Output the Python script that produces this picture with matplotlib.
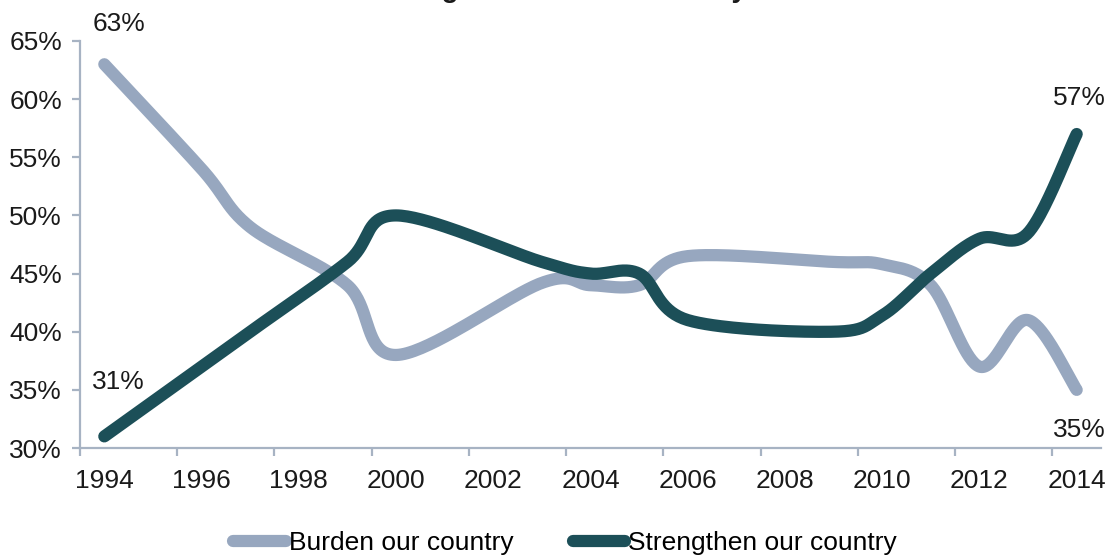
import numpy as np
import matplotlib
matplotlib.use("Agg")
import matplotlib.pyplot as plt

plt.rcParams['font.family'] = ['Liberation Sans', 'DejaVu Sans']

years = [1994, 1996, 1997, 1999, 2000, 2003, 2004, 2005, 2006, 2009, 2010, 2011, 2012, 2013, 2014]
burden = [63, 54, 49, 44, 38, 44.2, 44, 44, 46.5, 46, 45.8, 44, 37, 41, 35]
strengthen = [31, 37, 40, 46, 50, 46, 45, 45, 41, 40, 41.4, 45, 48, 48.5, 57]
tick_years = list(range(1994, 2015, 2))
y_ticks = list(range(30, 66, 5))

light = '#97a7bf'
dark = '#1c4f58'
axis_col = '#a7b3c3'


def smooth(xs, ys, n=40):
    # Catmull-Rom through the points, same look as a spreadsheet "smoothed line"
    pts = np.column_stack([xs, ys]).astype(float)
    p = np.vstack([pts[0], pts, pts[-1]])
    t = np.linspace(0, 1, n)[:, None]
    h00 = 2 * t**3 - 3 * t**2 + 1
    h10 = t**3 - 2 * t**2 + t
    h01 = -2 * t**3 + 3 * t**2
    h11 = t**3 - t**2
    out = []
    for i in range(1, len(p) - 2):
        m1 = (p[i + 1] - p[i - 1]) / 2
        m2 = (p[i + 2] - p[i]) / 2
        seg = h00 * p[i] + h10 * m1 + h01 * p[i + 1] + h11 * m2
        out.append(seg if i == 1 else seg[1:])
    out = np.vstack(out)
    return out[:, 0], out[:, 1]


fig = plt.figure(figsize=(11.11, 5.57), dpi=100)
ax = fig.add_axes([80 / 1111, 109 / 557, 1021 / 1111, 407 / 557])

bx, by = smooth(years, burden)
sx, sy = smooth(years, strengthen)
ax.plot(bx, by, color=light, lw=8.8, solid_capstyle='round', label='Burden our country', zorder=3)
ax.plot(sx, sy, color=dark, lw=8.8, solid_capstyle='round', label='Strengthen our country', zorder=4)

ax.set_xlim(1993.5, 2014.5)
ax.set_ylim(30, 65)
ax.set_yticks(y_ticks)
ax.set_yticklabels([f'{v}%' for v in y_ticks])
ax.set_xticks(tick_years)
ax.set_xticklabels([str(y) for y in tick_years])
# tick marks sit between categories, half a year before each label
ax.set_xticks([y - 0.5 for y in tick_years], minor=True)
ax.tick_params(axis='x', which='major', length=0, pad=15, labelsize=19, colors='#1a1a1a')
ax.tick_params(axis='x', which='minor', length=6, width=1.6, color=axis_col)
ax.tick_params(axis='y', length=6, width=1.6, color=axis_col, pad=7, labelsize=19, labelcolor='#1a1a1a')

for s in ['top', 'right']:
    ax.spines[s].set_visible(False)
for s in ['left', 'bottom']:
    ax.spines[s].set_color(axis_col)
    ax.spines[s].set_linewidth(1.6)
    ax.spines[s].set_clip_on(False)

lab = dict(fontsize=19, color='#1a1a1a', ha='center', va='center',
           textcoords='offset pixels', annotation_clip=False)
ax.annotate(f'{burden[0]}%', (years[0], burden[0]), xytext=(15, 40), **lab)
ax.annotate(f'{strengthen[0]}%', (years[0], strengthen[0]), xytext=(14, 54), **lab)
ax.annotate(f'{strengthen[-1]}%', (years[-1], strengthen[-1]), xytext=(3, 36), **lab)
ax.annotate(f'{burden[-1]}%', (years[-1], burden[-1]), xytext=(3, -40), **lab)

fig.text(0.506, 1 + 3 / 557, 'Immigrants and the Country', ha='center', va='baseline',
         fontsize=20, fontweight='bold', color='#1a1a1a')

leg = fig.legend(loc='center', bbox_to_anchor=(565 / 1111, 1 - 543 / 557), ncol=2, frameon=False,
                 fontsize=19, handlelength=2.0, handletextpad=0.1, columnspacing=2.25)
for h in leg.get_lines():
    h.set_solid_capstyle('round')

fig.savefig('out.png', dpi=100)
